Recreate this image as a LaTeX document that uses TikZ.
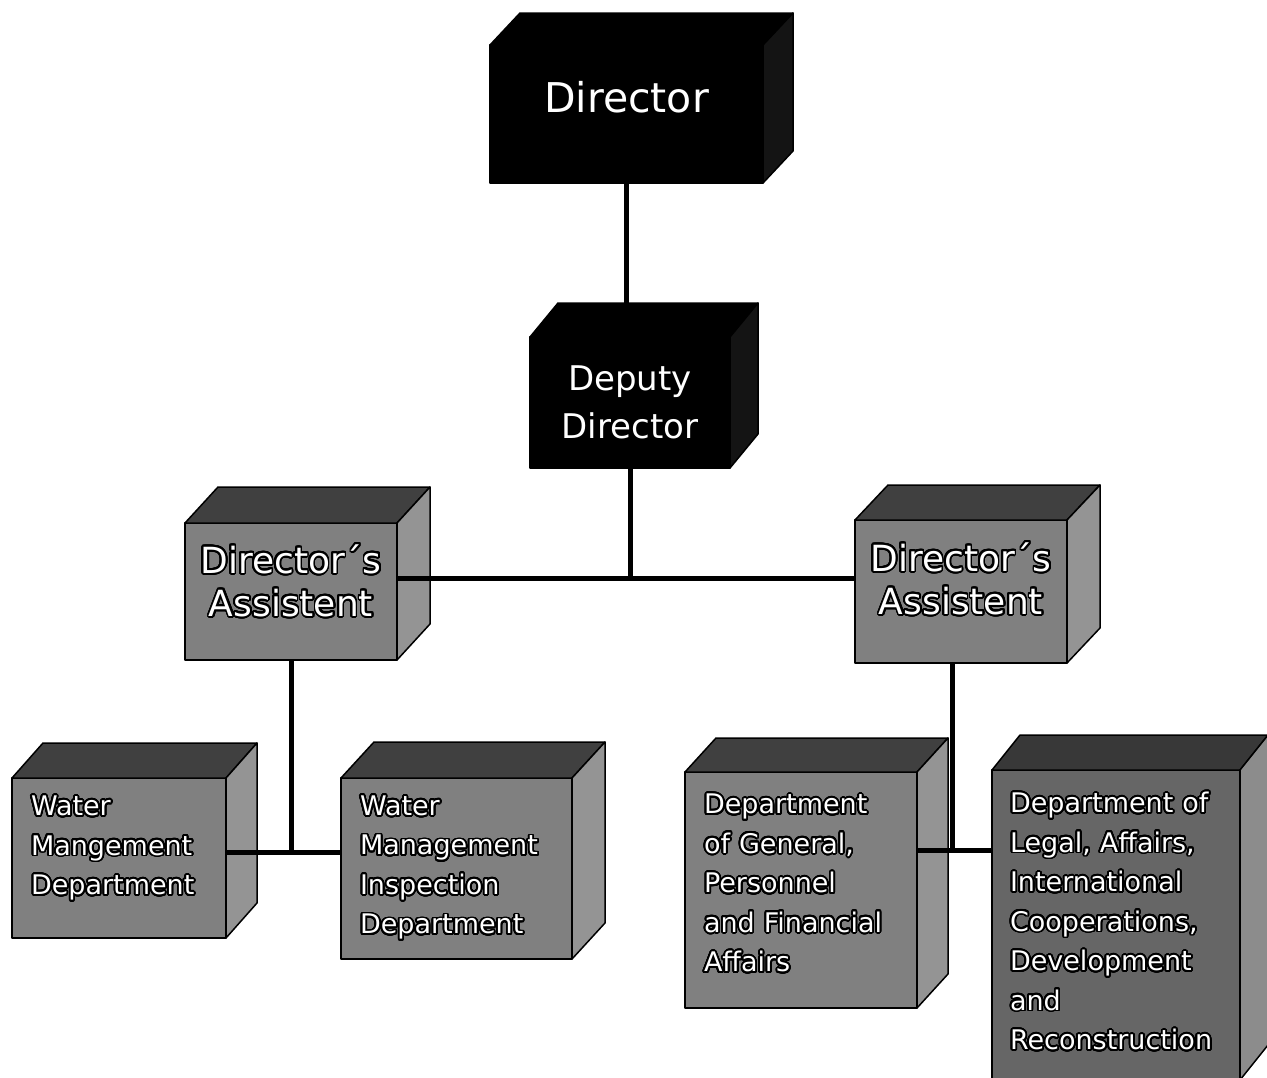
\documentclass[tikz,border=0pt]{standalone}
\usepackage{fontspec}
\setmainfont{DejaVu Sans}
\usepackage{contour}
\contourlength{1.8pt}
\contournumber{32}
\usepackage{tikz}

\tikzset{
  face/.style={draw=black, line width=1.5pt, line join=round},
  boss/.style={face, fill=black, text=white, outer sep=0pt, inner sep=0pt, anchor=north west, align=center},
  unit/.style={face, fill=black!50, text=white, outer sep=0pt, inner sep=0pt, anchor=north west, align=center},
  dept/.style={unit, inner xsep=19pt, align=left, font=\fontsize{27}{39.5}\selectfont},
  lift/.style={execute at end node={\par\vspace*{#1}}},
  link/.style={line width=5pt},
}
\newcommand{\wt}[1]{\contour{black}{#1}}
% top and side face of a box: node, dx, dy, top colour, side colour
\newcommand{\boxfaces}[5]{%
  \draw[face, fill=#4] (#1.north west) -- ++(#2,-#3) -- ([shift={(#2,-#3)}]#1.north east) -- (#1.north east) -- cycle;
  \draw[face, fill=#5] (#1.north east) -- ++(#2,-#3) -- ([shift={(#2,-#3)}]#1.south east) -- (#1.south east) -- cycle;
}

\begin{document}
\begin{tikzpicture}[x=1pt, y=-1pt]
    \useasboundingbox (0,0) rectangle (1267,1077);
    % heads
    \node[boss, minimum width=273pt, minimum height=138pt, font=\fontsize{41}{48}\selectfont] (dir) at (490,45) {\raisebox{34pt}{Director}};
    \boxfaces{dir}{30}{32}{black}{black!92}
    \node[boss, minimum width=200pt, minimum height=131pt, font=\fontsize{34}{48}\selectfont] (dep) at (530,337) {Deputy\\Director};
    \boxfaces{dep}{28}{34}{black}{black!92}
    % assistants
    \node[unit, minimum width=212pt, text width=212pt, minimum height=137pt, lift=20pt, font=\fontsize{36}{43}\selectfont] (la) at (185,523) {\wt{Director´s}\\\wt{Assistent}};
    \boxfaces{la}{33}{36}{black!75}{black!42}
    \node[unit, minimum width=212pt, text width=212pt, minimum height=143pt, lift=24pt, font=\fontsize{36}{43}\selectfont] (ra) at (855,520) {\wt{Director´s}\\\wt{Assistent}};
    \boxfaces{ra}{33}{35}{black!75}{black!42}
    % departments
    \node[dept, minimum width=214pt, text width=176pt, minimum height=160pt, lift=18pt] (wm) at (12,778) {\wt{Water}\\\wt{Mangement}\\\wt{Department}};
    \boxfaces{wm}{31}{35}{black!75}{black!42}
    \node[dept, minimum width=231pt, text width=193pt, minimum height=181pt] (wi) at (341,778) {\wt{Water}\\\wt{Management}\\\wt{Inspection}\\\wt{Department}};
    \boxfaces{wi}{33}{36}{black!75}{black!42}
    \node[dept, minimum width=232pt, text width=194pt, minimum height=236pt, lift=12pt] (gen) at (685,772) {\wt{Department}\\\wt{of General,}\\\wt{Personnel}\\\wt{and Financial}\\\wt{Affairs}};
    \boxfaces{gen}{31}{34}{black!75}{black!42}
    \node[dept, fill=black!60, minimum width=248pt, text width=212pt, minimum height=310pt, inner xsep=18pt, lift=6pt] (leg) at (992,770) {\wt{Department of}\\\wt{Legal, Affairs,}\\\wt{International}\\\wt{Cooperations,}\\\wt{Development}\\\wt{and}\\\wt{Reconstruction}};
    \boxfaces{leg}{28}{35}{black!78}{black!45}
    % connectors
    \coordinate (j1) at (625,578);
    \coordinate (j2) at (285,852);
    \coordinate (j3) at (952,850);
    \draw[link] (dir.south) -- (dir.south |- dep.north);
    \draw[link] (dep.south) -- (dep.south |- j1);
    \draw[link] (la.east |- j1) -- (ra.west |- j1);
    \draw[link] (la.south) -- (la.south |- j2);
    \draw[link] (wm.east |- j2) -- (wi.west |- j2);
    \draw[link] (ra.south -| j3) -- (j3);
    \draw[link] (gen.east |- j3) -- (leg.west |- j3);
\end{tikzpicture}
\end{document}
